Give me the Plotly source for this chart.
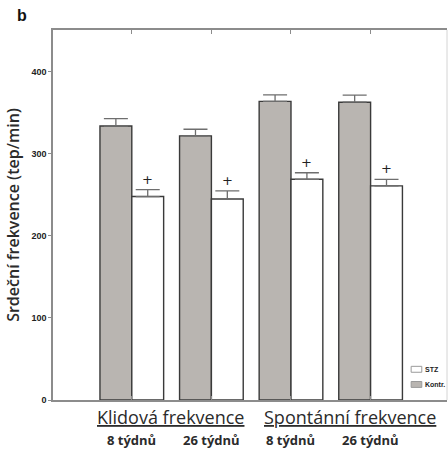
import plotly.graph_objects as go

# Heart rate (beats/min), mean and SEM
groups = ["Klidová frekvence", "Spontánní frekvence"]
group_pos = [0.48, 2.74]
periods = ["8 týdnů", "26 týdnů", "8 týdnů", "26 týdnů"]
kontr = [334, 322, 364, 363]
kontr_err = [9, 8, 8, 8.5]
stz = [248, 245, 269, 261]
stz_err = [8.5, 10, 8, 8]
significance = ["+", "+", "+", "+"]
y_ticks = [0, 100, 200, 300, 400]

x = list(range(len(periods)))

GRAY = "#b9b5b1"
EDGE = "#3a3a3a"
AXIS = "#8c8c8c"
TEXT = "#2b2b2b"
SANS = "Open Sans"

fig = go.Figure()
fig.add_trace(go.Bar(
    x=x, y=kontr, name="Kontr.",
    marker=dict(color=GRAY, line=dict(color=EDGE, width=1.4)),
    error_y=dict(type="data", array=kontr_err, arrayminus=[0] * 4,
                 color="#6e6e6e", thickness=1.3, width=12),
    showlegend=False,
))
fig.add_trace(go.Bar(
    x=x, y=stz, name="STZ",
    marker=dict(color="white", line=dict(color=EDGE, width=1.4)),
    error_y=dict(type="data", array=stz_err, arrayminus=[0] * 4,
                 color="#6e6e6e", thickness=1.3, width=12),
    showlegend=False,
))

# "+" markers above the STZ bars
for xi, v, e, s in zip(x, stz, stz_err, significance):
    fig.add_annotation(x=xi + 0.2, y=v + e, text=s, showarrow=False,
                       yanchor="bottom", yshift=1,
                       font=dict(family="DejaVu Sans", size=13, color="#222222"))

# period labels under each group of bars
for xi, p in zip(x, periods):
    fig.add_annotation(x=xi, y=0, yref="y", text=f"<b>{p}</b>", showarrow=False,
                       yanchor="middle", yshift=-40,
                       font=dict(family=SANS, size=13, color=TEXT))

# group headings, underlined
for gx, g in zip(group_pos, groups):
    fig.add_annotation(x=gx, y=0, text=f"<u>{g}</u>", showarrow=False,
                       yanchor="middle", yshift=-17,
                       font=dict(family=SANS, size=18, color=TEXT))

# panel letter
fig.add_annotation(x=(22 - 53) / 394, y=1 + (30 - 16) / 370,
                   xref="paper", yref="paper",
                   xanchor="center", yanchor="middle", text="<b>b</b>",
                   showarrow=False,
                   font=dict(family="Liberation Sans", size=16, color="#111"))

# faint right-hand frame edge
fig.add_shape(type="line", xref="paper", yref="paper", x0=1, x1=1, y0=0, y1=1,
              line=dict(color="#d4d4d4", width=1))

# small legend in the lower right corner
legend_items = [("STZ", "white"), ("Kontr.", GRAY)]
for i, (lab, col) in enumerate(legend_items):
    y0 = 0.075 - i * 0.041
    fig.add_shape(type="rect", xref="paper", yref="paper",
                  x0=0.909, x1=0.936, y0=y0, y1=y0 + 0.016,
                  fillcolor=col, line=dict(color="#9a9a9a", width=1))
    fig.add_annotation(xref="paper", yref="paper", x=0.94, y=y0 + 0.008,
                       xanchor="left", yanchor="middle", showarrow=False,
                       text=f"<b>{lab}</b>",
                       font=dict(family="Liberation Sans", size=7, color="#222"))

fig.update_layout(
    width=448, height=450,
    margin=dict(l=53, r=1, t=30, b=50),
    plot_bgcolor="white", paper_bgcolor="white",
    barmode="group", bargap=0.2, bargroupgap=0,
    font=dict(family="Liberation Sans", color=TEXT),
)
fig.update_xaxes(
    range=[-0.99, 3.96], tickvals=x, showticklabels=False,
    ticks="inside", ticklen=4, tickcolor=AXIS,
    showline=True, linecolor=AXIS, linewidth=1.5, mirror="ticks",
    showgrid=False, zeroline=False,
)
fig.update_yaxes(
    range=[0, 451], tickvals=y_ticks,
    ticks="outside", ticklen=3, tickcolor=AXIS,
    tickfont=dict(family="Liberation Sans", size=9, color="#222", weight="bold"),
    showline=True, linecolor=AXIS, linewidth=1.5, mirror=False,
    showgrid=False, zeroline=False,
    title=dict(text="Srdeční frekvence (tep/min)", standoff=8,
               font=dict(family=SANS, size=16, color=TEXT, weight=600)),
)

fig.write_html("out.html")
